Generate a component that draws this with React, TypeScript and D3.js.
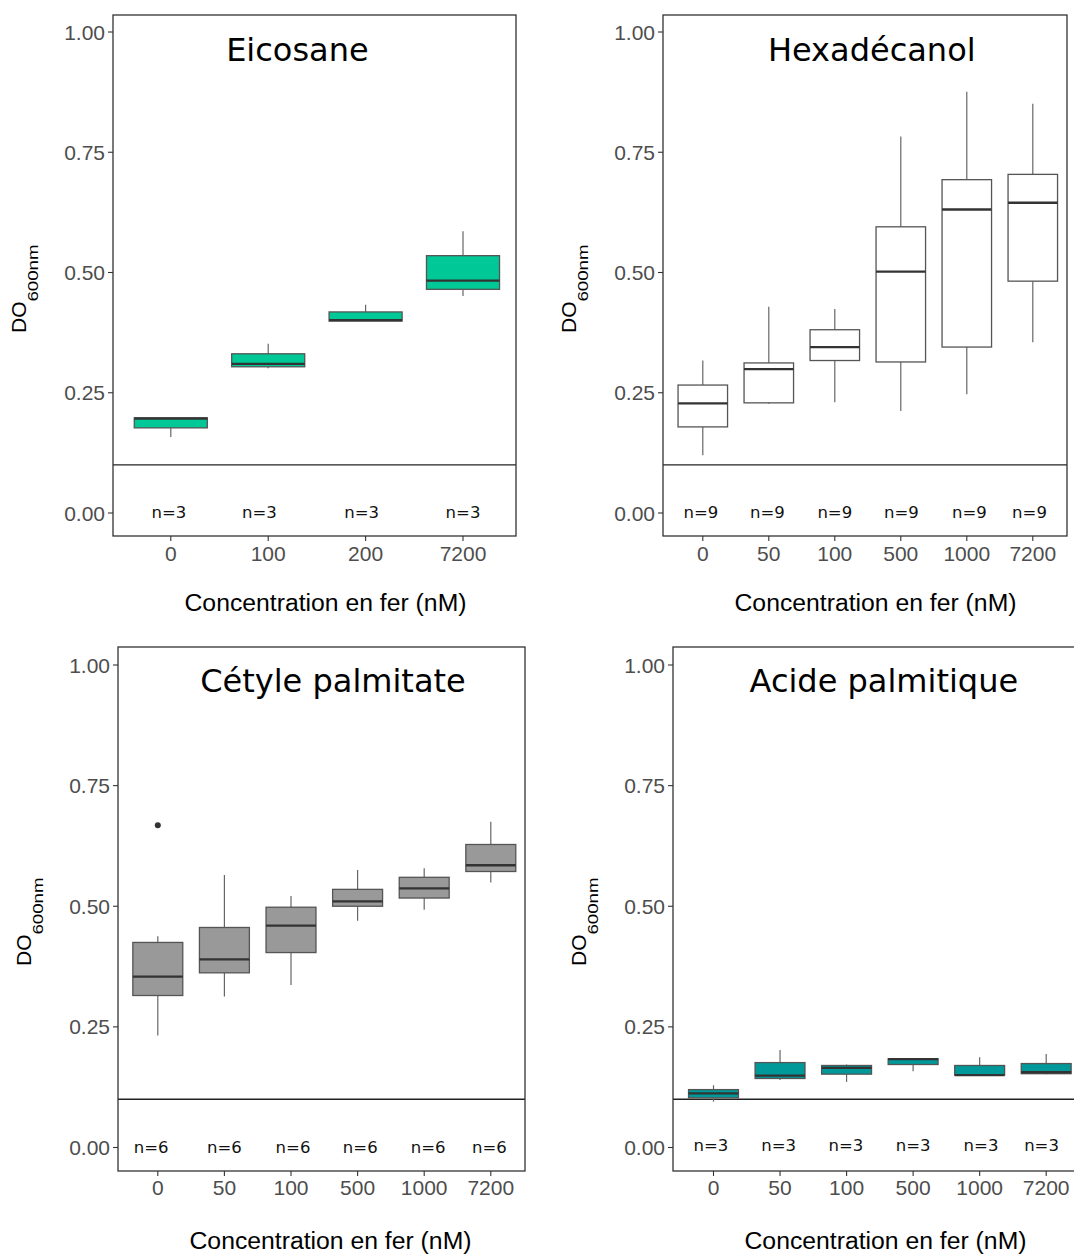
import React from "react";
import * as d3 from "d3";

// ---------- data ----------
// each box: [lowerWhisker, q1, median, q3, upperWhisker]
const eicosaneCats = ["0", "100", "200", "7200"];
const eicosaneBoxes = [
  [0.158, 0.177, 0.196, 0.198, 0.198],
  [0.301, 0.304, 0.31, 0.331, 0.352],
  [0.399, 0.399, 0.401, 0.418, 0.433],
  [0.451, 0.465, 0.483, 0.535, 0.586],
];
const eicosaneN = [3, 3, 3, 3];
const eicosaneNShift = [-0.02, -0.09, -0.04, 0];

const hexadecanolCats = ["0", "50", "100", "500", "1000", "7200"];
const hexadecanolBoxes = [
  [0.12, 0.179, 0.228, 0.266, 0.317],
  [0.227, 0.229, 0.299, 0.312, 0.429],
  [0.23, 0.317, 0.345, 0.381, 0.424],
  [0.212, 0.314, 0.502, 0.595, 0.783],
  [0.247, 0.345, 0.631, 0.693, 0.876],
  [0.355, 0.482, 0.645, 0.704, 0.851],
];
const hexadecanolN = [9, 9, 9, 9, 9, 9];
const hexadecanolNShift = [-0.03, -0.02, 0, 0.01, 0.04, -0.05];

const cetyleCats = ["0", "50", "100", "500", "1000", "7200"];
const cetyleBoxes = [
  [0.232, 0.315, 0.354, 0.425, 0.438],
  [0.313, 0.362, 0.39, 0.456, 0.565],
  [0.337, 0.404, 0.46, 0.498, 0.521],
  [0.47, 0.5, 0.51, 0.535, 0.575],
  [0.493, 0.517, 0.537, 0.56, 0.579],
  [0.549, 0.572, 0.585, 0.628, 0.675],
];
const cetyleOutliers = [{ cat: "0", value: 0.668 }];
const cetyleN = [6, 6, 6, 6, 6, 6];
const cetyleNShift = [-0.1, 0, 0.03, 0.04, 0.06, -0.02];

const acideCats = ["0", "50", "100", "500", "1000", "7200"];
const acideBoxes = [
  [0.095, 0.103, 0.112, 0.12, 0.129],
  [0.14, 0.143, 0.149, 0.176, 0.202],
  [0.136, 0.152, 0.165, 0.17, 0.172],
  [0.158, 0.172, 0.183, 0.184, 0.184],
  [0.15, 0.15, 0.15, 0.17, 0.187],
  [0.152, 0.153, 0.156, 0.174, 0.194],
];
const acideN = [3, 3, 3, 3, 3, 3];
const acideNShift = [-0.04, -0.02, -0.01, 0, 0.02, -0.07];

const yTickValues = [0, 0.25, 0.5, 0.75, 1];
const refLineValue = 0.1;
const xAxisTitle = "Concentration en fer (nM)";

// ---------- layout ----------
type PanelProps = {
  title: string;
  titlePos: number; // in category units (0-based)
  cats: string[];
  boxes: number[][];
  nCounts: number[];
  nShift: number[];
  outliers?: { cat: string; value: number }[];
  fill: string;
  frame: [number, number, number, number]; // left, right, top, bottom
  yPx: [number, number]; // pixel for 0 and 1
  centers: [number, number];
  titleBase: number;
  nBase: number;
  xTickBase: number;
  xTitleBase: number;
  doStart: number;
};

const AXIS_FONT = "'Liberation Sans', Arial, sans-serif";
const TITLE_FONT = "'DejaVu Sans', Verdana, sans-serif";

function Panel(p: PanelProps) {
  const [left, right, top, bottom] = p.frame;
  const y = d3.scaleLinear().domain([0, 1]).range(p.yPx);
  const x = d3.scalePoint<string>().domain(p.cats).range(p.centers);
  const step = (p.centers[1] - p.centers[0]) / (p.cats.length - 1);
  const idx = d3
    .scaleLinear()
    .domain([0, p.cats.length - 1])
    .range(p.centers);
  const bw = step * 0.75;
  const boxStroke = "#555";
  const tickColor = "#333";
  const labelColor = "#4d4d4d";
  const xTitleCenter = left + 212.5;

  return (
    <g>
      {/* reference line */}
      <line
        x1={left}
        x2={right}
        y1={y(refLineValue)}
        y2={y(refLineValue)}
        stroke="#222"
        strokeWidth={1.4}
      />
      {/* boxes */}
      {p.cats.map((c, i) => {
        const [lo, q1, med, q3, hi] = p.boxes[i];
        const cx = x(c)!;
        return (
          <g key={c}>
            <line x1={cx} x2={cx} y1={y(q3)} y2={y(hi)} stroke="#666" strokeWidth={1.2} />
            <line x1={cx} x2={cx} y1={y(q1)} y2={y(lo)} stroke="#666" strokeWidth={1.2} />
            <rect
              x={cx - bw / 2}
              y={y(q3)}
              width={bw}
              height={Math.max(0.5, y(q1) - y(q3))}
              fill={p.fill}
              stroke={boxStroke}
              strokeWidth={1.3}
            />
            <line
              x1={cx - bw / 2}
              x2={cx + bw / 2}
              y1={y(med)}
              y2={y(med)}
              stroke="#333"
              strokeWidth={2.3}
            />
          </g>
        );
      })}
      {(p.outliers || []).map((o, i) => (
        <circle key={i} cx={x(o.cat)!} cy={y(o.value)} r={3} fill="#333" />
      ))}
      {/* n labels */}
      {p.nCounts.map((n, i) => (
        <text
          key={"n" + i}
          x={idx(i + p.nShift[i])}
          y={p.nBase}
          textAnchor="middle"
          fontFamily={TITLE_FONT}
          fontSize={16.5}
          fill="#111"
        >
          {"n=" + n}
        </text>
      ))}
      {/* title */}
      <text
        x={idx(p.titlePos)}
        y={p.titleBase}
        textAnchor="middle"
        fontFamily={TITLE_FONT}
        fontSize={32}
        fill="#000"
      >
        {p.title}
      </text>
      {/* frame */}
      <rect
        x={left}
        y={top}
        width={right - left}
        height={bottom - top}
        fill="none"
        stroke="#333"
        strokeWidth={1.3}
      />
      {/* y axis */}
      {yTickValues.map((v) => (
        <g key={"yt" + v}>
          <line x1={left - 5} x2={left} y1={y(v)} y2={y(v)} stroke={tickColor} strokeWidth={1.1} />
          <text
            x={left - 8}
            y={y(v) + 7.5}
            textAnchor="end"
            fontFamily={AXIS_FONT}
            fontSize={21}
            fill={labelColor}
          >
            {d3.format(".2f")(v)}
          </text>
        </g>
      ))}
      {/* x axis */}
      {p.cats.map((c) => (
        <g key={"xt" + c}>
          <line x1={x(c)!} x2={x(c)!} y1={bottom} y2={bottom + 5} stroke={tickColor} strokeWidth={1.1} />
          <text
            x={x(c)!}
            y={p.xTickBase}
            textAnchor="middle"
            fontFamily={AXIS_FONT}
            fontSize={21}
            fill={labelColor}
          >
            {c}
          </text>
        </g>
      ))}
      <text
        x={xTitleCenter}
        y={p.xTitleBase}
        textAnchor="middle"
        fontFamily={AXIS_FONT}
        fontSize={23}
        fill="#000"
        textLength={282}
        lengthAdjust="spacingAndGlyphs"
      >
        {xAxisTitle}
      </text>
      {/* y title DO600nm */}
      <g transform={`translate(${left - 87},${p.doStart}) rotate(-90)`}>
        <text x={0} y={0} fontFamily={AXIS_FONT} fontSize={21} fill="#000">
          DO
        </text>
        <text
          x={31.5}
          y={12}
          fontFamily={AXIS_FONT}
          fontSize={15}
          fill="#000"
          textLength={57}
          lengthAdjust="spacingAndGlyphs"
        >
          600nm
        </text>
      </g>
    </g>
  );
}

export default function App() {
  return (
    <div style={{ position: "absolute", left: 0, top: 0 }}>
      <svg width={1074} height={1255} style={{ display: "block", background: "#fff" }}>
        <rect x={0} y={0} width={1074} height={1255} fill="#fff" />
        <Panel
          title="Eicosane"
          titlePos={1.3}
          cats={eicosaneCats}
          boxes={eicosaneBoxes}
          nCounts={eicosaneN}
          nShift={eicosaneNShift}
          fill="#00C897"
          frame={[113, 516, 15, 536]}
          yPx={[513, 32]}
          centers={[170.8, 463]}
          titleBase={61}
          nBase={518}
          xTickBase={561}
          xTitleBase={611}
          doStart={333}
        />
        <Panel
          title="Hexadécanol"
          titlePos={2.56}
          cats={hexadecanolCats}
          boxes={hexadecanolBoxes}
          nCounts={hexadecanolN}
          nShift={hexadecanolNShift}
          fill="#ffffff"
          frame={[663, 1067, 15, 536]}
          yPx={[513, 32]}
          centers={[702.8, 1032.8]}
          titleBase={61}
          nBase={518}
          xTickBase={561}
          xTitleBase={611}
          doStart={333}
        />
        <Panel
          title="Cétyle palmitate"
          titlePos={2.63}
          cats={cetyleCats}
          boxes={cetyleBoxes}
          outliers={cetyleOutliers}
          nCounts={cetyleN}
          nShift={cetyleNShift}
          fill="#999999"
          frame={[118, 525, 647, 1171]}
          yPx={[1147.5, 665]}
          centers={[157.8, 490.8]}
          titleBase={692}
          nBase={1153}
          xTickBase={1195}
          xTitleBase={1249}
          doStart={966}
        />
        <Panel
          title="Acide palmitique"
          titlePos={2.56}
          cats={acideCats}
          boxes={acideBoxes}
          nCounts={acideN}
          nShift={acideNShift}
          fill="#009999"
          frame={[673, 1080, 647, 1171]}
          yPx={[1147.5, 665]}
          centers={[713.5, 1046.2]}
          titleBase={692}
          nBase={1151}
          xTickBase={1195}
          xTitleBase={1249}
          doStart={966}
        />
      </svg>
    </div>
  );
}
